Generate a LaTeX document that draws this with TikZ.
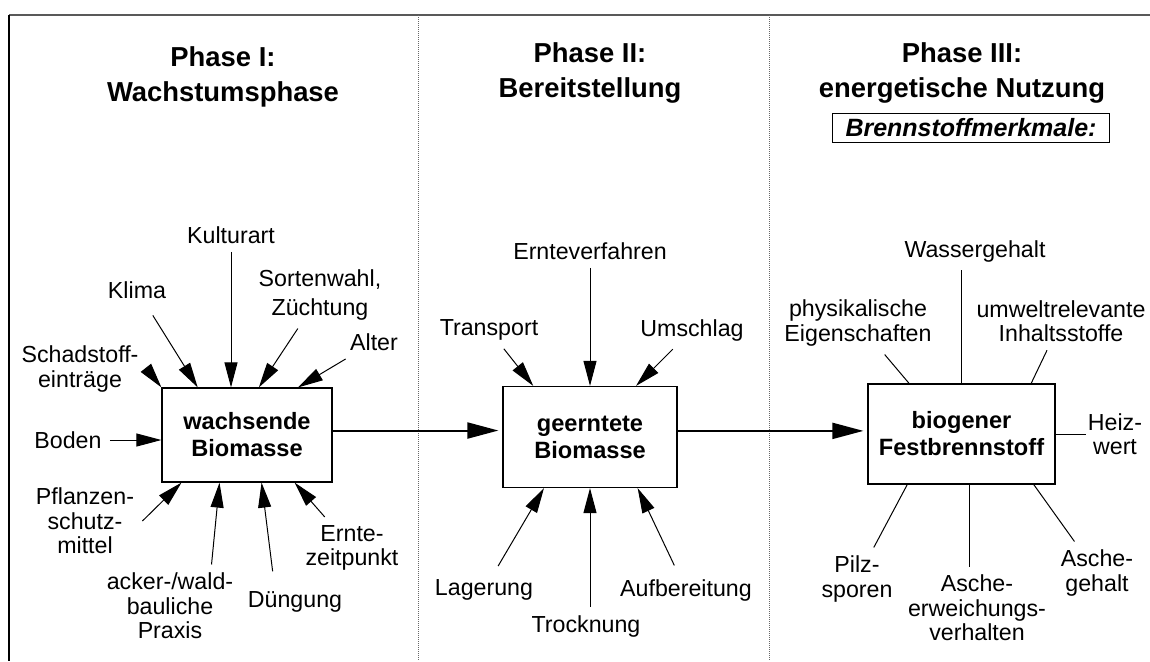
\documentclass[tikz,border=0pt]{standalone}
\usepackage{fontspec}
\setmainfont{Liberation Sans}
\usetikzlibrary{arrows.meta}

\begin{document}
\begin{tikzpicture}[x=0.5pt, y=-0.5pt,
        titel/.style={align=center, font=\fontsize{13.7pt}{17.5pt}\selectfont\bfseries},
        stufe/.style={draw, line width=0.6pt, align=center, inner sep=0pt,
            font=\fontsize{11.8pt}{13.5pt}\selectfont\bfseries},
        merkmal/.style={align=center, inner sep=4pt, font=\fontsize{11.6pt}{12.3pt}\selectfont},
        pfeil/.style={line width=0.5pt, -{Triangle[length=12.5pt, width=6.5pt]}},
        strich/.style={line width=0.5pt},
        hauptpfeil/.style={line width=1pt, -{Triangle[length=15.5pt, width=8pt]}, shorten >=2pt}]

    % Rahmen
    \useasboundingbox (0,0) rectangle (1150,661);
    \draw[line width=1pt, black!65] (9,15) -- (1150,15);
    \draw[line width=0.75pt] (9,15) -- (9,661);

    % Trennlinien zwischen den Phasen
    \foreach \x in {418, 769} {
        \draw[line width=0.5pt, black!60, dash pattern=on 0.5pt off 0.5pt] (\x,15) -- (\x,661);
    }

    % Ueberschriften
    \node[titel] (phase1) at (223,77) {Phase I:\\Wachstumsphase};
    \node[titel] (phase2) at (590,73) {Phase II:\\Bereitstellung};
    \node[titel] (phase3) at (962,73) {Phase III:\\energetische Nutzung};
    \node[draw, line width=0.6pt, minimum width=138.5pt, minimum height=14.5pt, inner sep=0pt,
        font=\fontsize{12.5pt}{14pt}\selectfont\bfseries\itshape] (merkmale) at (971,128) {Brennstoffmerkmale:};

    % die drei Stufen
    \node[stufe, minimum width=85pt, minimum height=47pt] (wb) at (247,435) {wachsende\\Biomasse};
    \node[stufe, minimum width=87pt, minimum height=50.5pt] (gb) at (590,437) {geerntete\\Biomasse};
    \node[stufe, minimum width=93.5pt, minimum height=50pt] (fb) at (961.5,434) {biogener\\Festbrennstoff};

    \draw[hauptpfeil] (wb.3) -- (wb.3 -| gb.west);
    \draw[hauptpfeil] (gb.4) -- (gb.4 -| fb.west);

    % Phase I: Einflussgroessen
    \node[merkmal] (kultur) at (231,235) {Kulturart};
    \node[merkmal] (klima) at (137,290) {Klima};
    \node[merkmal] (sorten) at (320,295) {Sortenwahl,\\[2pt]Züchtung};
    \node[merkmal] (alter) at (374,342) {Alter};
    \node[merkmal] (schad) at (80,369) {Schadstoff-\\einträge};
    \node[merkmal] (boden) at (68,440) {Boden};
    \node[merkmal] (pflanz) at (85,521) {Pflanzen-\\schutz-\\mittel};
    \node[merkmal] (acker) at (170,606) {acker-/wald-\\bauliche\\Praxis};
    \node[merkmal] (dueng) at (295,602) {Düngung};
    \node[merkmal] (erntezeit) at (352,548) {Ernte-\\zeitpunkt};

    \draw[pfeil] (kultur) -- (kultur |- wb.north);
    \draw[pfeil, shorten <=5pt] (klima) -- (wb.136.8);
    \draw[pfeil] (sorten) -- (wb.76.8);
    \draw[pfeil] (alter) -- (wb.43.2);
    \draw[pfeil] (schad.east) -- (wb.north west);
    \draw[pfeil] (boden.east) -- (boden.east -| wb.west);
    \draw[pfeil] (pflanz.east) -- (wb.216.3);
    \draw[pfeil] (acker.45) -- (wb.240.1);
    \draw[pfeil, shorten <=6pt] (dueng.138) -- (wb.287.7);
    \draw[pfeil] (erntezeit) -- (wb.315.6);

    % Phase II: Bereitstellungsschritte
    \node[merkmal] (ernteverf) at (590,251) {Ernteverfahren};
    \node[merkmal] (transp) at (489,330) {Transport};
    \node[merkmal] (umschl) at (692,330) {Umschlag};
    \node[merkmal] (lager) at (484,590) {Lagerung};
    \node[merkmal] (trockn) at (586,626) {Trocknung};
    \node[merkmal] (aufber) at (686,590) {Aufbereitung};

    \draw[pfeil] (ernteverf) -- (gb.north);
    \draw[pfeil] (transp) -- (gb.138.9);
    \draw[pfeil] (umschl) -- (gb.48.3);
    \draw[pfeil, shorten <=3pt] (lager) -- (gb.228.3);
    \draw[pfeil] (trockn.north -| gb.south) -- (gb.south);
    \draw[pfeil, shorten <=3pt] (aufber) -- (gb.313.5);

    % Phase III: Brennstoffmerkmale
    \node[merkmal] (wasser) at (975,251) {Wassergehalt};
    \node[merkmal] (phys) at (858,323) {physikalische\\Eigenschaften};
    \node[merkmal] (umwelt) at (1061,321) {umweltrelevante\\Inhaltsstoffe};
    \node[merkmal] (heiz) at (1115,434) {Heiz-\\wert};
    \node[merkmal] (pilz) at (857,579) {Pilz-\\sporen};
    \node[merkmal] (aew) at (977,608) {Asche-\\erweichungs-\\verhalten};
    \node[merkmal] (aschegeh) at (1097,573) {Asche-\\gehalt};

    \draw[strich] (fb.north) -- (fb.north |- wasser.south);
    \draw[strich] (fb.136.7) -- (phys);
    \draw[strich] (fb.36.7) -- (umwelt);
    \draw[strich, shorten >=-3pt] (fb.east) -- (heiz.west);
    \draw[strich] (fb.223.3) -- (pilz);
    \draw[strich] (fb.279) -- (fb.279 |- aew.north);
    \draw[strich] (fb.325.6) -- (aschegeh);

\end{tikzpicture}
\end{document}
